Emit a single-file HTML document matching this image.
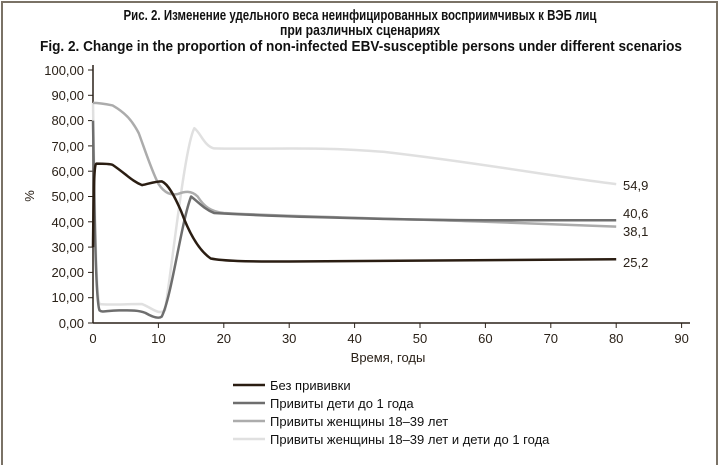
<!DOCTYPE html>
<html><head><meta charset="utf-8"><style>body{margin:0;background:#fff}svg{display:block}</style></head><body>
<svg width="720" height="465" viewBox="0 0 720 465" xmlns="http://www.w3.org/2000/svg" font-family="Liberation Sans, sans-serif">
<rect x="2" y="2" width="715" height="470" fill="none" stroke="#7a7266" stroke-width="2"/>
<g font-weight="bold" font-size="14.5" fill="#111" text-anchor="middle">
<text x="360" y="20" textLength="473" lengthAdjust="spacingAndGlyphs">Рис. 2. Изменение удельного веса неинфицированных восприимчивых к ВЭБ лиц</text>
<text x="360" y="35" textLength="160" lengthAdjust="spacingAndGlyphs">при различных сценариях</text>
<text x="361" y="51" textLength="642" lengthAdjust="spacingAndGlyphs">Fig. 2. Change in the proportion of non-infected EBV-susceptible persons under different scenarios</text>
</g>
<g stroke="#2a2118" stroke-width="1.5" fill="none">
<line x1="93" y1="65" x2="93" y2="323"/>
<line x1="93" y1="323" x2="690" y2="323"/>
</g>
<g stroke="#2a2118" stroke-width="1">
<line x1="88" y1="70" x2="93" y2="70"/><line x1="88" y1="95.3" x2="93" y2="95.3"/><line x1="88" y1="120.6" x2="93" y2="120.6"/><line x1="88" y1="145.9" x2="93" y2="145.9"/><line x1="88" y1="171.2" x2="93" y2="171.2"/><line x1="88" y1="196.5" x2="93" y2="196.5"/><line x1="88" y1="221.8" x2="93" y2="221.8"/><line x1="88" y1="247.1" x2="93" y2="247.1"/><line x1="88" y1="272.4" x2="93" y2="272.4"/><line x1="88" y1="297.7" x2="93" y2="297.7"/><line x1="88" y1="323" x2="93" y2="323"/>
<line x1="158.4" y1="323" x2="158.4" y2="328"/><line x1="223.8" y1="323" x2="223.8" y2="328"/><line x1="289.2" y1="323" x2="289.2" y2="328"/><line x1="354.6" y1="323" x2="354.6" y2="328"/><line x1="420" y1="323" x2="420" y2="328"/><line x1="485.4" y1="323" x2="485.4" y2="328"/><line x1="550.8" y1="323" x2="550.8" y2="328"/><line x1="616.2" y1="323" x2="616.2" y2="328"/><line x1="681.6" y1="323" x2="681.6" y2="328"/>
</g>
<g font-size="13" fill="#2a2118" text-anchor="end">
<text x="84" y="75">100,00</text><text x="84" y="100">90,00</text><text x="84" y="125">80,00</text><text x="84" y="151">70,00</text><text x="84" y="176">60,00</text><text x="84" y="201">50,00</text><text x="84" y="227">40,00</text><text x="84" y="252">30,00</text><text x="84" y="277">20,00</text><text x="84" y="302">10,00</text><text x="84" y="328">0,00</text>
</g>
<g font-size="13" fill="#2a2118" text-anchor="middle">
<text x="93" y="343">0</text><text x="158.4" y="343">10</text><text x="223.8" y="343">20</text><text x="289.2" y="343">30</text><text x="354.6" y="343">40</text><text x="420" y="343">50</text><text x="485.4" y="343">60</text><text x="550.8" y="343">70</text><text x="616.2" y="343">80</text><text x="681.6" y="343">90</text>
<text x="388" y="362">Время, годы</text>
</g>
<text x="34" y="196" font-size="13" fill="#2a2118" text-anchor="middle" transform="rotate(-90 34 196)">%</text>
<g transform="translate(93,323) scale(6.54,-2.53)" fill="none" stroke-width="2.5" stroke-linejoin="round">
<path vector-effect="non-scaling-stroke" stroke="#e0e0e0" d="M0,87 C0.3,40 0.5,10 1,7.5 C2,7 5,7.5 7.5,7.5 C9,6 10,3 11,5 C12,20 14,70 15.5,77 C16.5,75 17,70 18.5,69 C25,68.5 35,70 45,67.5 C60,63 70,58 80,54.9"/>
<path vector-effect="non-scaling-stroke" stroke="#acacac" d="M0,87 C1,87 2,86.5 3,86 C5,83 6,80 7,75 C8,68 9,60 10,55 C11,51 12,50.5 13,51 C14,52 15,52.5 16,50 C17,46 18,44 20,43.5 C30,42 50,41 60,40 C70,39 75,38.6 80,38.1"/>
<path vector-effect="non-scaling-stroke" stroke="#6e6e6e" d="M0,80 C0.3,30 0.5,8 1,5 C1.5,4 2,5 4,5 C6,5 7,5 8,4 C9,2.5 10,1.5 10.5,2.5 C12,10 13.5,40 15,50 C16,48 17,45 18.5,43.5 C25,42.5 40,41 60,40.6 C70,40.6 75,40.6 80,40.6"/>
<path vector-effect="non-scaling-stroke" stroke="#2a1d12" d="M0,30 C0.1,55 0.2,63 0.5,63 C1.5,63 2.5,63 3,62.5 C5,59 6,56 7.5,54.5 C8.5,55 9.5,56 10.5,56 C11.5,55 12.5,50 13.5,44 C14.5,37 16,29 18,25.5 C20,24.5 23,24.3 30,24.3 C50,24.3 65,24.6 80,25.2"/>
</g>
<g font-size="13" fill="#2a2118">
<text x="623" y="190">54,9</text><text x="623" y="218">40,6</text><text x="623" y="236">38,1</text><text x="623" y="267">25,2</text>
</g>
<g stroke-width="2.5">
<line x1="233" y1="385" x2="265" y2="385" stroke="#2a1d12"/>
<line x1="233" y1="403" x2="265" y2="403" stroke="#6e6e6e"/>
<line x1="233" y1="421" x2="265" y2="421" stroke="#acacac"/>
<line x1="233" y1="439" x2="265" y2="439" stroke="#e0e0e0"/>
</g>
<g font-size="13" fill="#111">
<text x="270" y="390">Без прививки</text>
<text x="270" y="408">Привиты дети до 1 года</text>
<text x="270" y="426">Привиты женщины 18–39 лет</text>
<text x="270" y="444">Привиты женщины 18–39 лет  и дети до 1 года</text>
</g>
</svg>
</body></html>
